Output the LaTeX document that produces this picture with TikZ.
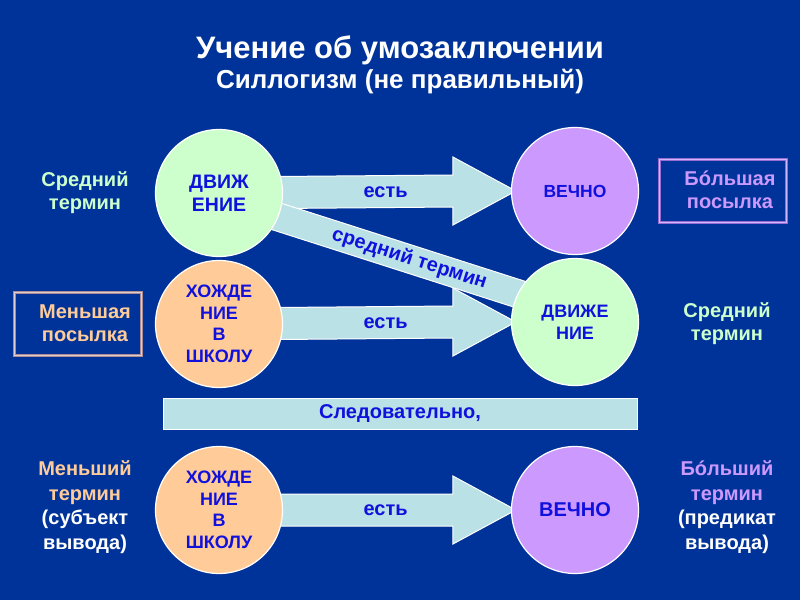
\documentclass[tikz,border=0pt]{standalone}
\usepackage{fontspec}
\setmainfont{Liberation Sans}
\usetikzlibrary{calc}
\definecolor{bg}{RGB}{0,51,153}
\definecolor{cgreen}{RGB}{204,255,204}
\definecolor{cpurple}{RGB}{204,153,255}
\definecolor{corange}{RGB}{255,204,153}
\definecolor{carrow}{RGB}{185,225,230}
\definecolor{ctext}{RGB}{17,17,221}
\definecolor{cboxa}{RGB}{170,140,150}
\definecolor{cboxb}{RGB}{225,205,205}
\definecolor{cboxc}{RGB}{150,110,210}
\definecolor{cboxd}{RGB}{210,180,255}
\pgfdeclarelayer{back}
\pgfdeclarelayer{arr}
\pgfsetlayers{back,arr,main}
\newcommand\blockarrow[2]{%
  \filldraw[shaft] ($(#1.center)+(0,-16)$) -- ($(#2.west)+(-58,-16)$) -- ($(#2.west)+(-58,-34)$)
   -- ($(#2.west)+(5,0)$) -- ($(#2.west)+(-58,34)$) -- ($(#2.west)+(-58,16)$)
   -- ($(#1.center)+(0,16)$) -- cycle;}
\begin{document}
\begin{tikzpicture}[x=1pt,y=-1pt,
  term/.style={circle, minimum size=127pt, inner sep=0pt, draw=white, line width=1.2pt,
     text=ctext, align=center, font=\bfseries\fontsize{19.5}{23}\selectfont},
  shaft/.style={fill=carrow, draw=white, line width=1pt},
  lbl/.style={text=ctext, font=\bfseries\fontsize{20}{22}\selectfont},
  side/.style={align=center, font=\bfseries\fontsize{20}{23}\selectfont},
  sideb/.style={align=center, text=white, font=\bfseries\fontsize{20}{24.5}\selectfont},
  boxa/.style={draw=cboxa, double=cboxb, double distance=1.2pt, line width=1pt,
     minimum width=127pt, minimum height=63pt},
  boxb/.style={draw=cboxc, double=cboxd, double distance=1.2pt, line width=1pt,
     minimum width=127pt, minimum height=63pt}]
\begin{pgfonlayer}{back}
\fill[bg] (0,0) rectangle (800,600);
\end{pgfonlayer}
\useasboundingbox (0,0) rectangle (800,600);

% title
\node[text=white, font=\bfseries\fontsize{31}{34}\selectfont] (t1) at (400,50) {Учение об умозаключении};
\node[text=white, font=\bfseries\fontsize{26}{30}\selectfont] (t2) at (400,82) {Силлогизм (не правильный)};

% circles
\node[term, fill=cgreen] (a1) at (219,193) {ДВИЖ\\ЕНИЕ};
\node[term, fill=cpurple, font=\bfseries\fontsize{17.5}{20}\selectfont] (b1) at (575,191) {ВЕЧНО};
\node[term, fill=corange, font=\bfseries\fontsize{18}{21.5}\selectfont] (a2) at (219,324) {ХОЖДЕ\\НИЕ\\В\\ШКОЛУ};
\node[term, fill=cgreen, font=\bfseries\fontsize{18}{22}\selectfont] (b2) at (575,322) {ДВИЖЕ\\НИЕ};
\node[term, fill=corange, font=\bfseries\fontsize{18}{21.5}\selectfont] (a3) at (219,510) {ХОЖДЕ\\НИЕ\\В\\ШКОЛУ};
\node[term, fill=cpurple, font=\bfseries\fontsize{20}{23}\selectfont] (b3) at (575,510) {ВЕЧНО};

% arrows and band
\begin{pgfonlayer}{arr}
\blockarrow{a1}{b1}
\blockarrow{a2}{b2}
\blockarrow{a3}{b3}
\coordinate (d1) at ($(a1.center)+(0,5)$);
\coordinate (d2) at ($(b2.center)+(0,-10)$);
\filldraw[shaft] ($(d1)!14pt!90:(d2)$) -- ($(d2)!14pt!-90:(d1)$) -- ($(d2)!14pt!90:(d1)$) -- ($(d1)!14pt!-90:(d2)$) -- cycle;
\end{pgfonlayer}
\node[lbl] (e1) at ($(a1.east)!0.45!(b1.west)$) {есть};
\node[lbl] (e2) at ($(a2.east)!0.45!(b2.west)$) {есть};
\node[lbl] (e3) at ($(a3.east)!0.45!(b3.west)$) {есть};
\node[lbl, rotate=-17.7, inner sep=0pt] (dl) at ($(d1)!0.535!(d2)$) {средний термин};

% conclusion bar
\node[shaft, minimum width=474pt, minimum height=31pt, text=ctext,
  font=\bfseries\fontsize{20}{22}\selectfont] (s) at (400,414) {Следовательно,};

% side labels
\node[side, text=cgreen] (l1) at (85,193) {Средний\\термин};
\node[side, text=cgreen] (r2) at (727,324) {Средний\\термин};
\node[boxa] (bx1) at (78,324) {};
\node[side, text=corange] (l2) at (85,323) {Меньшая\\посылка};
\node[boxb] (bx2) at (723,191) {};
\node[side, text=cpurple] (r1) at (730,190) {Бóльшая\\посылка};
\node[sideb] (l3) at (85,507) {\textcolor{corange}{Меньший}\\\textcolor{corange}{термин}\\(субъект\\вывода)};
\node[sideb] (r3) at (727,507) {\textcolor{cpurple}{Бóльший}\\\textcolor{cpurple}{термин}\\(предикат\\вывода)};
\end{tikzpicture}
\end{document}
